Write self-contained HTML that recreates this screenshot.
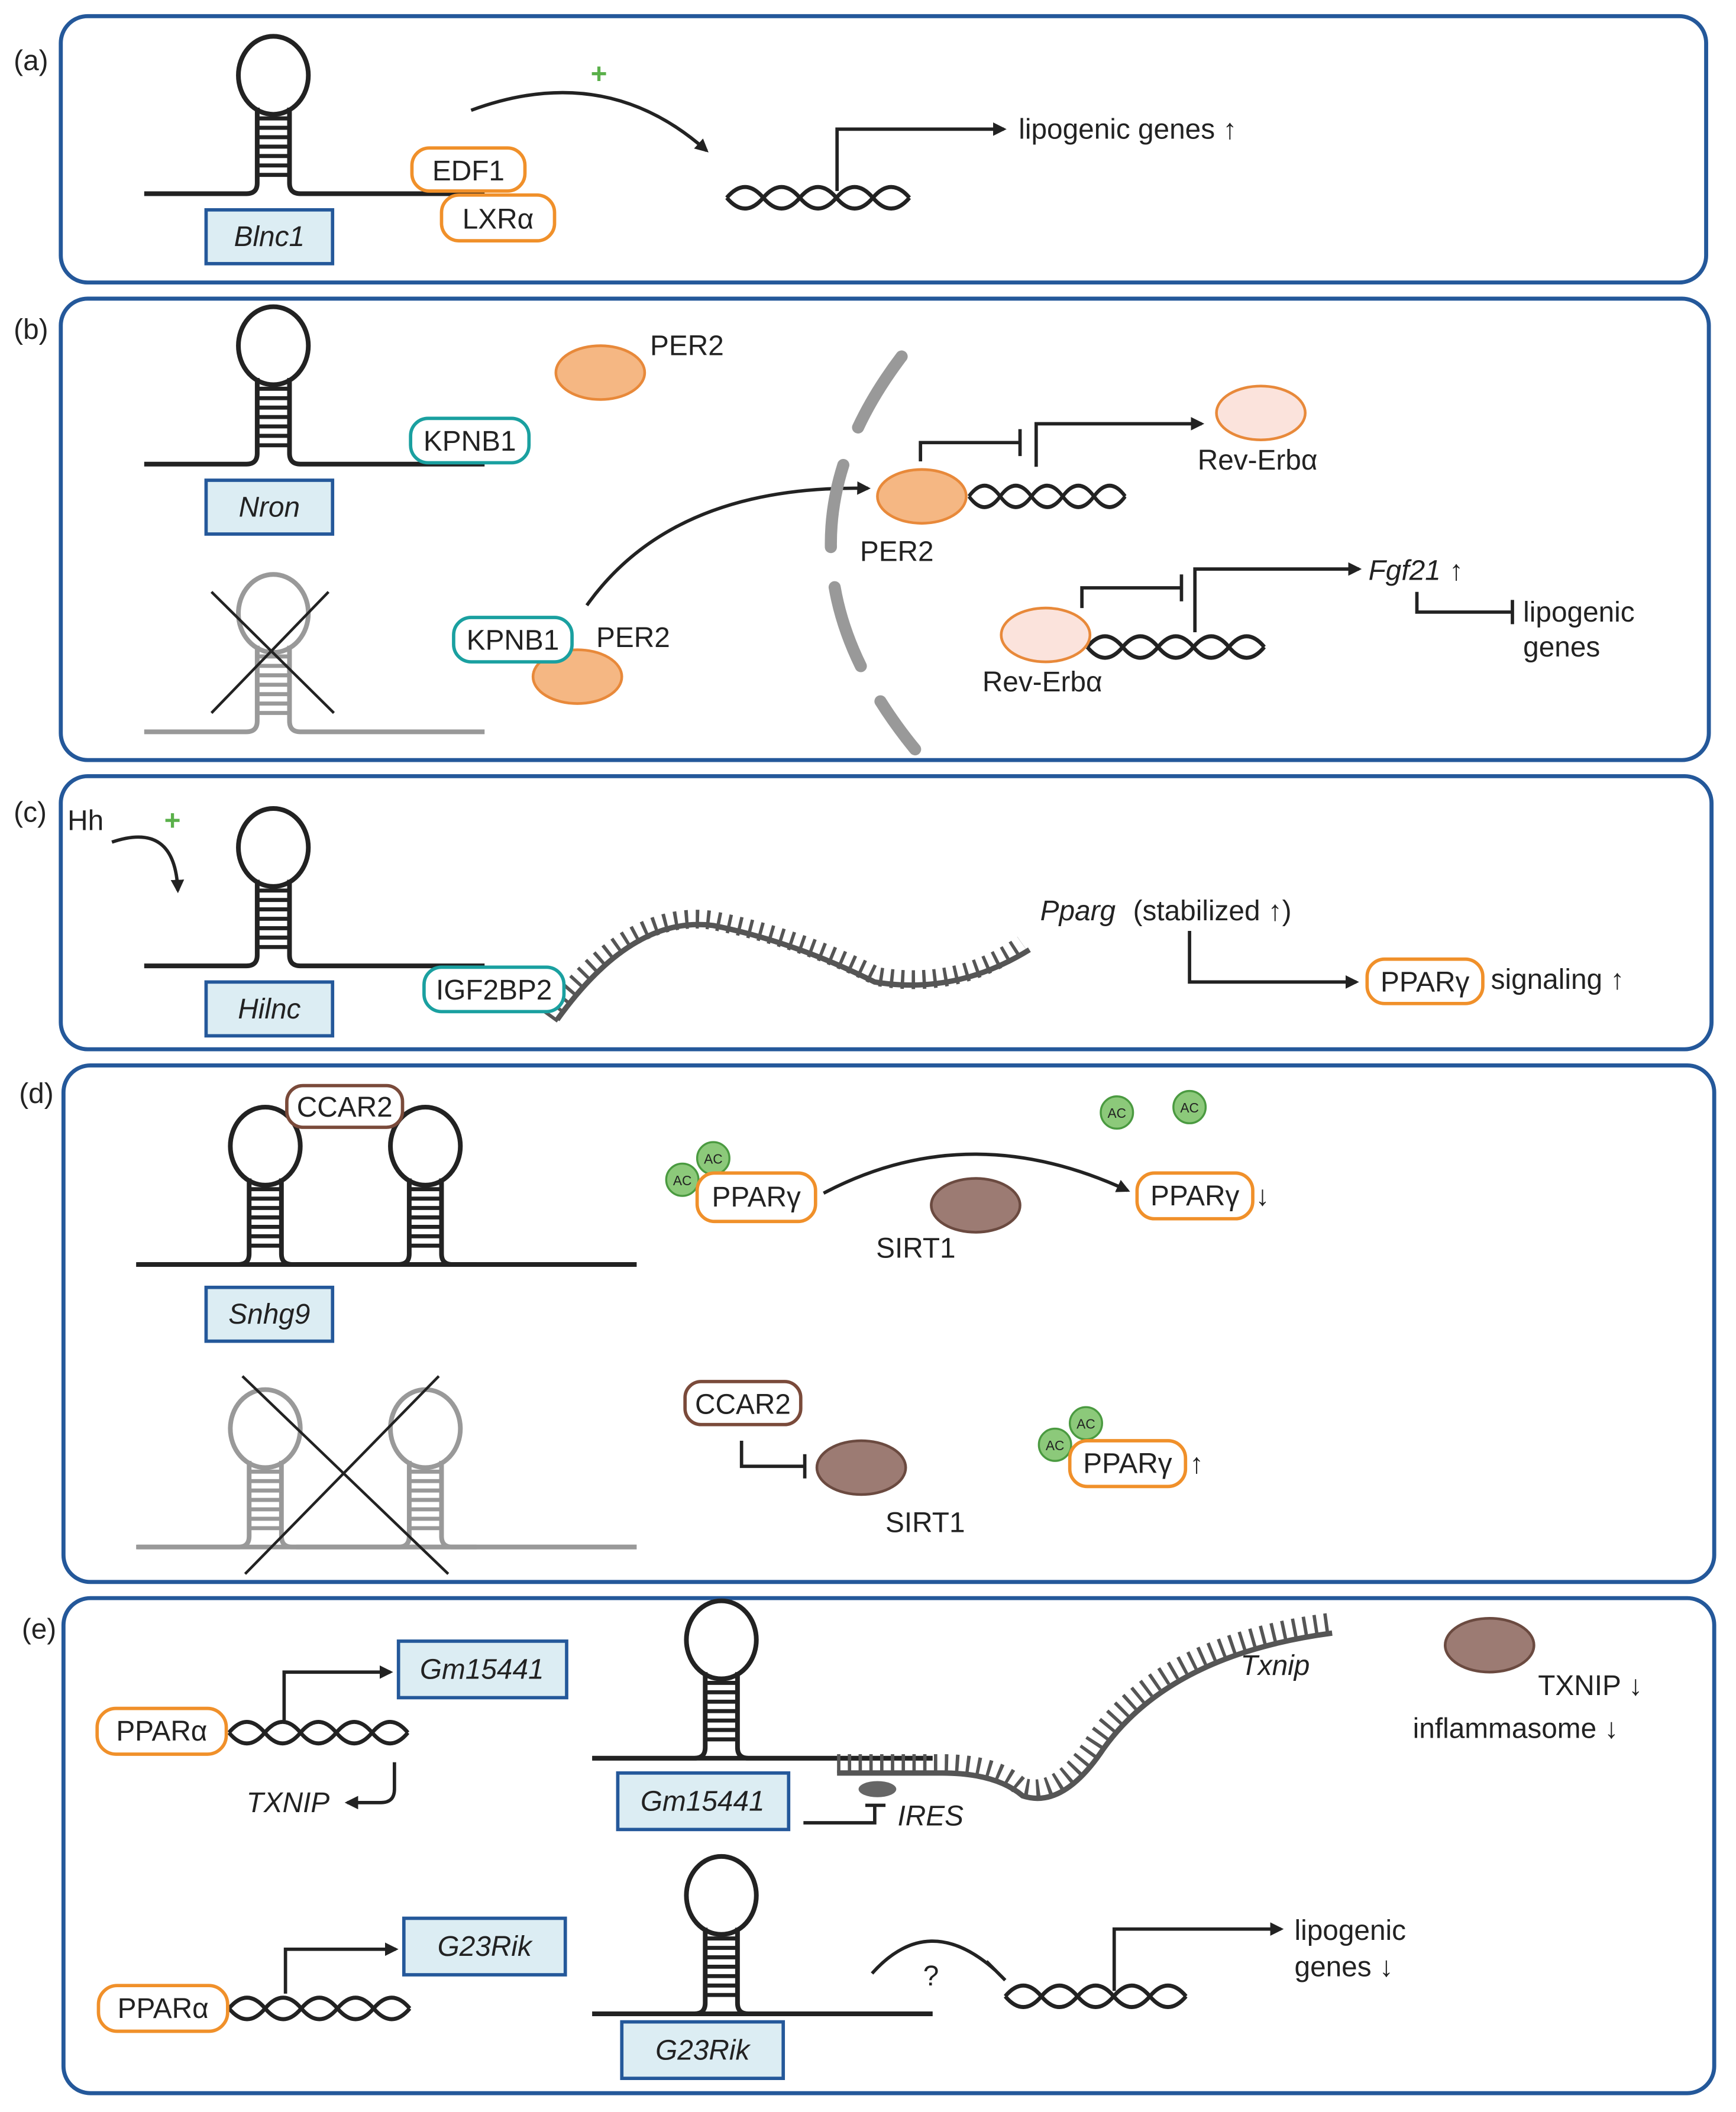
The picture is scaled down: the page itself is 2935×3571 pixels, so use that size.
<!DOCTYPE html>
<html><head><meta charset="utf-8"><style>
html,body{margin:0;padding:0;background:#fff}
svg{display:block}
text{font-family:"Liberation Sans",sans-serif;font-size:21px;fill:#222}
.i{font-style:italic}
</style></head><body>
<svg width="2935" height="3571" viewBox="0 0 1290 1570" xmlns="http://www.w3.org/2000/svg">
<defs>
<marker id="ar" viewBox="0 0 10 10" refX="8" refY="5" markerWidth="4" markerHeight="4" orient="auto"><path d="M0 0L10 5L0 10z" fill="#222"/></marker>
<g id="hp" fill="none" stroke-width="3.5">
<ellipse cx="0" cy="-88" rx="26" ry="29"/>
<path d="M-12 -64V-8Q-12 0 -20 0H-96M12 -64V-8Q12 0 20 0H157"/>
<path stroke-width="3" d="M-12 -56H12M-12 -49H12M-12 -42H12M-12 -35H12M-12 -28H12M-12 -21H12M-12 -14H12"/>
</g>
<g id="hx" fill="none" stroke="#222" stroke-width="3">
<path d="M0 0Q14 -16 28 0T56 0T84 0T112 0T140 0"/>
<path d="M0 0Q14 16 28 0T56 0T84 0T112 0T140 0"/>
</g>
<g id="ac"><circle r="12" fill="#8cc97a" stroke="#4a9a40" stroke-width="1.5"/><text x="0" y="4" text-anchor="middle" style="font-size:10px">AC</text></g>
</defs>
<g fill="none" stroke="#24589a" stroke-width="3">
<rect x="45" y="12" width="1223" height="198" rx="20"/>
<rect x="45" y="222" width="1225" height="343" rx="20"/>
<rect x="45" y="577" width="1227" height="203" rx="20"/>
<rect x="47" y="792" width="1227" height="384" rx="20"/>
<rect x="47" y="1188" width="1227" height="368" rx="20"/>
</g>
<text x="10" y="52">(a)</text><text x="10" y="252">(b)</text><text x="10" y="611">(c)</text><text x="14" y="820">(d)</text><text x="16" y="1218">(e)</text>

<!-- (a) -->
<use href="#hp" x="203" y="144" stroke="#222"/>
<rect x="153" y="156" width="94" height="40" fill="#dcedf3" stroke="#24589a" stroke-width="2.5"/>
<text x="200" y="183" class="i" text-anchor="middle">Blnc1</text>
<rect x="306" y="110" width="84" height="32" rx="13" fill="#fff" stroke="#f0902a" stroke-width="2.5"/>
<text x="348" y="134" text-anchor="middle">EDF1</text>
<rect x="328" y="145" width="84" height="34" rx="13" fill="#fff" stroke="#f0902a" stroke-width="2.5"/>
<text x="370" y="170" text-anchor="middle">LXRα</text>
<path d="M350 82Q450 45 525 112" fill="none" stroke="#222" stroke-width="2.5" marker-end="url(#ar)"/>
<text x="445" y="62" text-anchor="middle" style="fill:#5ab04a;font-weight:bold">+</text>
<use href="#hx" x="540" y="147" transform="translate(540 147) scale(0.97 1) translate(-540 -147)"/>
<path d="M622 142V96H746" fill="none" stroke="#222" stroke-width="2.5" marker-end="url(#ar)"/>
<text x="757" y="103">lipogenic genes ↑</text>

<!-- (b) -->
<use href="#hp" x="203" y="345" stroke="#222"/>
<rect x="153" y="357" width="94" height="40" fill="#dcedf3" stroke="#24589a" stroke-width="2.5"/>
<text x="200" y="384" class="i" text-anchor="middle">Nron</text>
<rect x="305" y="311" width="88" height="33" rx="13" fill="#fff" stroke="#1aa0a0" stroke-width="2.5"/>
<text x="349" y="335" text-anchor="middle">KPNB1</text>
<use href="#hp" x="203" y="544" stroke="#999"/>
<path d="M157 440L248 530M244 440L157 530" stroke="#222" stroke-width="2"/>
<ellipse cx="446" cy="277" rx="33" ry="20" fill="#f5b783" stroke="#e8893a" stroke-width="2"/>
<text x="483" y="264">PER2</text>
<path d="M436 450Q500 360 645 363" fill="none" stroke="#222" stroke-width="2.5" marker-end="url(#ar)"/>
<ellipse cx="429" cy="503" rx="33" ry="20" fill="#f5b783" stroke="#e8893a" stroke-width="2"/>
<rect x="337" y="459" width="88" height="33" rx="13" fill="#fff" stroke="#1aa0a0" stroke-width="2.5"/>
<text x="381" y="483" text-anchor="middle">KPNB1</text>
<text x="443" y="481">PER2</text>
<path d="M670 265Q560 410 680 557" fill="none" stroke="#999" stroke-width="9" stroke-dasharray="62 30" stroke-linecap="round"/>
<use href="#hx" x="720" y="369" transform="translate(720 369) scale(0.83 1) translate(-720 -369)"/>
<ellipse cx="685" cy="369" rx="33" ry="20" fill="#f5b783" stroke="#e8893a" stroke-width="2"/>
<text x="639" y="417">PER2</text>
<path d="M684 343V329H758M758 319V339" fill="none" stroke="#222" stroke-width="2.5"/>
<path d="M770 347V315H893" fill="none" stroke="#222" stroke-width="2.5" marker-end="url(#ar)"/>
<ellipse cx="937" cy="307" rx="33" ry="20" fill="#fbe3dc" stroke="#e8893a" stroke-width="2"/>
<text x="890" y="349">Rev-Erbα</text>
<use href="#hx" x="808" y="481" transform="translate(808 481) scale(0.94 1) translate(-808 -481)"/>
<ellipse cx="777" cy="472" rx="33" ry="20" fill="#fbe3dc" stroke="#e8893a" stroke-width="2"/>
<text x="730" y="514">Rev-Erbα</text>
<path d="M804 452V437H878M878 427V447" fill="none" stroke="#222" stroke-width="2.5"/>
<path d="M888 470V423H1010" fill="none" stroke="#222" stroke-width="2.5" marker-end="url(#ar)"/>
<text x="1017" y="431" class="i">Fgf21</text><text x="1077" y="431">↑</text>
<path d="M1053 440V455H1124M1124 446V464" fill="none" stroke="#222" stroke-width="2.5"/>
<text x="1132" y="462">lipogenic</text><text x="1132" y="488">genes</text>

<!-- (c) -->
<text x="50" y="617">Hh</text>
<text x="128" y="617" text-anchor="middle" style="fill:#5ab04a;font-weight:bold">+</text>
<path d="M83 626Q130 610 132 662" fill="none" stroke="#222" stroke-width="2.5" marker-end="url(#ar)"/>
<use href="#hp" x="203" y="718" stroke="#222"/>
<rect x="153" y="730" width="94" height="40" fill="#dcedf3" stroke="#24589a" stroke-width="2.5"/>
<text x="200" y="757" class="i" text-anchor="middle">Hilnc</text>
<path d="M414 758Q470 680 530 688Q590 700 650 730Q710 740 765 706" fill="none" stroke="#555" stroke-width="4"/>
<path d="M408 752Q466 672 528 680Q592 692 652 722Q712 732 760 698" fill="none" stroke="#555" stroke-width="14" stroke-dasharray="2.5 5.5" transform="translate(0,4)"/>
<rect x="315" y="719" width="104" height="33" rx="13" fill="#fff" stroke="#1aa0a0" stroke-width="2.5"/>
<text x="367" y="743" text-anchor="middle">IGF2BP2</text>
<text x="773" y="684" class="i">Pparg</text><text x="842" y="684">(stabilized ↑)</text>
<path d="M884 692V730H1008" fill="none" stroke="#222" stroke-width="2.5" marker-end="url(#ar)"/>
<rect x="1016" y="713" width="86" height="33" rx="13" fill="#fff" stroke="#f0902a" stroke-width="2.5"/>
<text x="1059" y="737" text-anchor="middle">PPARγ</text>
<text x="1108" y="735">signaling ↑</text>

<!-- (d) -->
<g stroke="#222"><use href="#hp" x="197" y="940"/><use href="#hp" x="316" y="940"/></g>
<path d="M102 940H473" stroke="#222" stroke-width="3.5"/>
<rect x="213" y="807" width="86" height="31" rx="12" fill="#fff" stroke="#7a4a3a" stroke-width="2.5"/>
<text x="256" y="830" text-anchor="middle">CCAR2</text>
<rect x="153" y="957" width="94" height="40" fill="#dcedf3" stroke="#24589a" stroke-width="2.5"/>
<text x="200" y="984" class="i" text-anchor="middle">Snhg9</text>
<g stroke="#999"><use href="#hp" x="197" y="1150"/><use href="#hp" x="316" y="1150"/></g>
<path d="M102 1150H473" stroke="#999" stroke-width="3.5"/>
<path d="M180 1023L333 1170M326 1023L182 1170" stroke="#222" stroke-width="2"/>
<use href="#ac" x="507" y="877"/><use href="#ac" x="530" y="861"/>
<rect x="518" y="872" width="88" height="36" rx="13" fill="#fff" stroke="#f0902a" stroke-width="2.5"/>
<text x="562" y="897" text-anchor="middle">PPARγ</text>
<path d="M612 887Q720 830 838 885" fill="none" stroke="#222" stroke-width="2.5" marker-end="url(#ar)"/>
<ellipse cx="725" cy="896" rx="33" ry="20" fill="#9c7b73" stroke="#6b4a40" stroke-width="2"/>
<text x="651" y="935">SIRT1</text>
<rect x="845" y="872" width="86" height="34" rx="13" fill="#fff" stroke="#f0902a" stroke-width="2.5"/>
<text x="888" y="896" text-anchor="middle">PPARγ</text><text x="933" y="896">↓</text>
<use href="#ac" x="830" y="827"/><use href="#ac" x="884" y="823"/>
<rect x="509" y="1027" width="86" height="32" rx="12" fill="#fff" stroke="#7a4a3a" stroke-width="2.5"/>
<text x="552" y="1051" text-anchor="middle">CCAR2</text>
<path d="M551 1071V1090H598M598 1081V1099" fill="none" stroke="#222" stroke-width="2.5"/>
<ellipse cx="640" cy="1091" rx="33" ry="20" fill="#9c7b73" stroke="#6b4a40" stroke-width="2"/>
<text x="658" y="1139">SIRT1</text>
<use href="#ac" x="784" y="1074"/><use href="#ac" x="807" y="1058"/>
<rect x="795" y="1071" width="86" height="34" rx="13" fill="#fff" stroke="#f0902a" stroke-width="2.5"/>
<text x="838" y="1095" text-anchor="middle">PPARγ</text><text x="884" y="1095">↑</text>

<!-- (e) -->
<use href="#hx" x="170" y="1288" transform="translate(170 1288) scale(0.95 1) translate(-170 -1288)"/>
<rect x="72" y="1270" width="96" height="34" rx="14" fill="#fff" stroke="#f0902a" stroke-width="2.5"/>
<text x="120" y="1294" text-anchor="middle">PPARα</text>
<path d="M211 1280V1243H290" fill="none" stroke="#222" stroke-width="2.5" marker-end="url(#ar)"/>
<rect x="296" y="1220" width="125" height="42" fill="#dcedf3" stroke="#24589a" stroke-width="2.5"/>
<text x="358" y="1248" class="i" text-anchor="middle">Gm15441</text>
<path d="M293 1310V1330Q293 1340 283 1340H258" fill="none" stroke="#222" stroke-width="2.5" marker-end="url(#ar)"/>
<text x="183" y="1347" class="i">TXNIP</text>
<use href="#hp" x="536" y="1307" stroke="#222"/>
<path d="M440 1307H693" stroke="#222" stroke-width="3.5"/>
<path d="M622 1318H700Q740 1318 760 1335Q790 1345 820 1300Q870 1230 990 1214" fill="none" stroke="#555" stroke-width="4"/>
<path d="M622 1311H700Q740 1311 758 1328Q786 1338 814 1294Q864 1222 988 1206" fill="none" stroke="#555" stroke-width="14" stroke-dasharray="2.5 5.5"/>
<ellipse cx="652" cy="1330" rx="14" ry="6" fill="#666"/>
<rect x="459" y="1318" width="127" height="42" fill="#dcedf3" stroke="#24589a" stroke-width="2.5"/>
<text x="522" y="1346" class="i" text-anchor="middle">Gm15441</text>
<path d="M597 1355H650V1342M643 1342H658" fill="none" stroke="#222" stroke-width="2.5"/>
<text x="667" y="1357" class="i">IRES</text>
<text x="922" y="1245" class="i">Txnip</text>
<ellipse cx="1107" cy="1223" rx="33" ry="20" fill="#9c7b73" stroke="#6b4a40" stroke-width="2"/>
<text x="1143" y="1260">TXNIP ↓</text>
<text x="1050" y="1292">inflammasome ↓</text>
<use href="#hx" x="170" y="1493" transform="translate(170 1493) scale(0.96 1) translate(-170 -1493)"/>
<rect x="73" y="1476" width="96" height="34" rx="14" fill="#fff" stroke="#f0902a" stroke-width="2.5"/>
<text x="121" y="1500" text-anchor="middle">PPARα</text>
<path d="M212 1482V1449H294" fill="none" stroke="#222" stroke-width="2.5" marker-end="url(#ar)"/>
<rect x="300" y="1426" width="120" height="42" fill="#dcedf3" stroke="#24589a" stroke-width="2.5"/>
<text x="360" y="1454" class="i" text-anchor="middle">G23Rik</text>
<use href="#hp" x="536" y="1497" stroke="#222"/>
<path d="M440 1497H693" stroke="#222" stroke-width="3.5"/>
<rect x="462" y="1503" width="120" height="42" fill="#dcedf3" stroke="#24589a" stroke-width="2.5"/>
<text x="522" y="1531" class="i" text-anchor="middle">G23Rik</text>
<path d="M648 1467Q690 1420 740 1465M733 1458L747 1472" fill="none" stroke="#222" stroke-width="2.5"/>
<text x="686" y="1476">?</text>
<use href="#hx" x="747" y="1484" transform="translate(747 1484) scale(0.96 1) translate(-747 -1484)"/>
<path d="M828 1480V1434H952" fill="none" stroke="#222" stroke-width="2.5" marker-end="url(#ar)"/>
<text x="962" y="1442">lipogenic</text><text x="962" y="1469">genes ↓</text>
</svg>
</body></html>
